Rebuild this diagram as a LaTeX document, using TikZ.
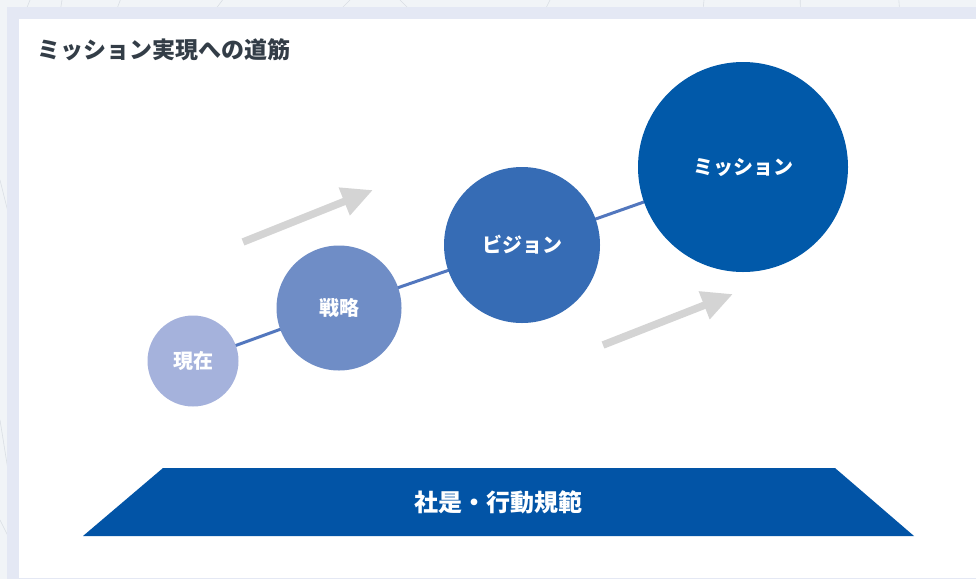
\documentclass[tikz,border=0pt]{standalone}
\usepackage{fontspec}
\setmainfont{Noto Sans CJK JP}
\usetikzlibrary{arrows.meta}
\definecolor{bgout}{HTML}{F1F4F7}
\definecolor{bgline}{HTML}{D9DEE4}
\definecolor{frame}{HTML}{E4E8F4}
\definecolor{titlec}{HTML}{333D47}
\definecolor{cA}{HTML}{A5B2DC}
\definecolor{cB}{HTML}{6F8DC6}
\definecolor{cC}{HTML}{366CB5}
\definecolor{cD}{HTML}{0159A9}
\definecolor{base}{HTML}{0254A6}
\definecolor{linkc}{HTML}{5277BE}
\definecolor{arrowc}{HTML}{D4D4D4}
\pgfdeclarelayer{back}
\pgfsetlayers{back,main}
\tikzset{
  stage/.style={circle, draw=none, inner sep=0pt, text=white,
    font=\bfseries\fontsize{20}{23}\selectfont},
  link/.style={draw=linkc, line width=3pt},
  growarrow/.style={draw=arrowc, line width=7.5pt,
    -{Triangle[length=31pt,width=28pt,fill=arrowc]}},
}
\begin{document}
\begin{tikzpicture}[x=1pt,y=-1pt]
\useasboundingbox (0,0) rectangle (976,579);
\begin{pgfonlayer}{back}
% outer background with faint lines
\fill[bgout] (0,0) rectangle (976,579);
\begin{scope}
\clip (0,0) rectangle (976,579);
\draw[bgline, line width=0.6pt] (30,0) -- (14,40) (62,0) -- (58,25) (128,-20) -- (105,40)
  (230,-10) -- (200,30) (360,-10) -- (320,30) (400,0) -- (420,20) (560,-20) -- (530,40)
  (705,-10) -- (700,40) (800,-10) -- (801,40) (898,-10) -- (902,40) (1040,-20) -- (1090,40)
  (1250,-20) -- (1290,40) (1405,-20) -- (1420,40) (0,180) -- (10,220) (0,420) -- (8,470)
  (0,520) -- (10,540);
\end{scope}
% frame panel
\fill[frame] (7,7) rectangle (976,579);
\fill[white] (19,19) rectangle (976,578);
\end{pgfonlayer}
% title
\node[anchor=west, text=titlec, font=\bfseries\fontsize{23}{27}\selectfont, inner sep=0pt]
  (title) at (37,50) {ミッション実現への道筋};
% stages
\node[stage, fill=cA, minimum size=91pt] (now) at (193,361) {現在};
\node[stage, fill=cB, minimum size=125pt] (strategy) at (339,308) {戦略};
\node[stage, fill=cC, minimum size=156pt] (vision) at (522,245) {ビジョン};
\node[stage, fill=cD, minimum size=210pt] (mission) at (743,167) {ミッション};
% links behind the circles
\begin{pgfonlayer}{back}
\draw[link] (now.center) -- (strategy.center);
\draw[link] (strategy.center) -- (vision.center);
\draw[link] (vision.center) -- (mission.center);
\end{pgfonlayer}
% grey arrows
\coordinate (a1s) at (243,242);
\coordinate (a1e) at (373,190);
\coordinate (a2s) at (603,345);
\coordinate (a2e) at (733,294);
\draw[growarrow] (a1s) -- (a1e);
\draw[growarrow] (a2s) -- (a2e);
% base trapezoid
\fill[base] (83,536) -- (163,468) -- (835,468) -- (914,536) -- cycle;
\node[text=white, font=\bfseries\fontsize{24}{28}\selectfont] (basis) at (498,502) {社是・行動規範};
\end{tikzpicture}
\end{document}
